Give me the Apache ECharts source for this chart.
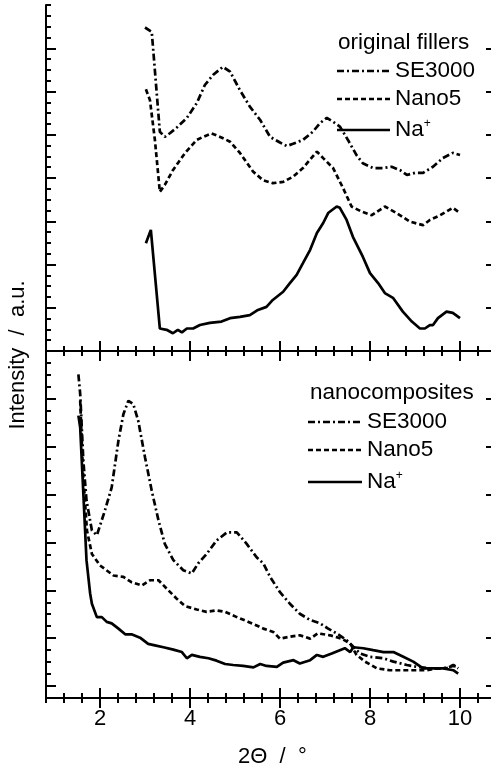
<!DOCTYPE html>
<html>
<head>
<meta charset="utf-8">
<script src="https://cdn.jsdelivr.net/npm/echarts@6/dist/echarts.min.js"></script>
<style>
  html, body { margin: 0; padding: 0; background: #fff; }
  #chart { width: 491px; height: 770px; }
</style>
</head>
<body>
<div id="chart"></div>
<script>
// x tick labels (2 theta, degrees)
const xTickLabels = [2, 4, 6, 8, 10]

// upper panel: original fillers  [2theta, intensity a.u.]
const fillerSE3000 = [
  [3.0, 7.48], [3.15, 7.38], [3.33, 5.07], [3.44, 4.95], [3.56, 5.04], [3.70, 5.16], [3.93, 5.39],
  [4.15, 5.73], [4.33, 6.15], [4.51, 6.38], [4.73, 6.57], [4.89, 6.46], [5.11, 6.03], [5.33, 5.65],
  [5.56, 5.34], [5.78, 4.95], [6.0, 4.82], [6.15, 4.74], [6.29, 4.79], [6.51, 4.88], [6.73, 5.07],
  [6.89, 5.27], [7.04, 5.39], [7.18, 5.30], [7.33, 5.19], [7.51, 4.88], [7.70, 4.53], [7.84, 4.34],
  [8.07, 4.23], [8.29, 4.23], [8.48, 4.26], [8.67, 4.18], [8.82, 4.07], [9.0, 4.12], [9.18, 4.12],
  [9.40, 4.26], [9.62, 4.46], [9.84, 4.58], [10.0, 4.53]
]
const fillerNano5 = [
  [3.02, 6.05], [3.11, 5.80], [3.22, 4.88], [3.33, 3.68], [3.44, 3.84], [3.62, 4.18], [3.89, 4.58],
  [4.15, 4.88], [4.29, 4.95], [4.48, 5.03], [4.67, 4.95], [4.89, 4.84], [5.11, 4.58], [5.40, 4.15],
  [5.62, 3.95], [5.84, 3.88], [6.07, 3.91], [6.29, 4.03], [6.51, 4.23], [6.82, 4.61], [6.96, 4.46],
  [7.18, 4.23], [7.40, 3.77], [7.59, 3.34], [7.82, 3.22], [8.04, 3.14], [8.33, 3.34], [8.59, 3.19],
  [8.89, 2.99], [9.18, 2.91], [9.33, 3.03], [9.56, 3.14], [9.84, 3.31], [10.0, 3.19]
]
const fillerNa = [
  [3.02, 2.49], [3.13, 2.80], [3.33, 0.52], [3.48, 0.49], [3.62, 0.41], [3.73, 0.49], [3.82, 0.43],
  [3.93, 0.52], [4.07, 0.52], [4.22, 0.60], [4.44, 0.65], [4.70, 0.68], [4.89, 0.76], [5.11, 0.79],
  [5.33, 0.83], [5.51, 0.95], [5.70, 1.02], [5.84, 1.18], [6.07, 1.37], [6.22, 1.57], [6.37, 1.76],
  [6.51, 2.03], [6.67, 2.34], [6.82, 2.73], [6.96, 2.96], [7.07, 3.19], [7.26, 3.34], [7.33, 3.31],
  [7.48, 3.03], [7.62, 2.64], [7.84, 2.18], [8.0, 1.80], [8.18, 1.57], [8.33, 1.34], [8.51, 1.23],
  [8.73, 0.91], [8.93, 0.68], [9.11, 0.52], [9.22, 0.52], [9.33, 0.60], [9.40, 0.60], [9.51, 0.76],
  [9.70, 0.91], [9.84, 0.88], [10.0, 0.76]
]

// lower panel: nanocomposites
const compSE3000 = [
  [1.52, 6.76], [1.56, 6.35], [1.63, 4.96], [1.70, 4.13], [1.82, 3.50], [1.93, 3.40], [2.11, 3.92],
  [2.26, 4.40], [2.41, 5.38], [2.52, 5.93], [2.63, 6.21], [2.74, 6.14], [2.85, 5.79], [3.0, 5.03],
  [3.15, 4.33], [3.30, 3.71], [3.44, 3.22], [3.63, 2.88], [3.85, 2.67], [4.04, 2.60], [4.18, 2.81],
  [4.37, 3.01], [4.59, 3.29], [4.82, 3.46], [5.04, 3.46], [5.26, 3.22], [5.48, 2.94], [5.63, 2.81],
  [5.78, 2.53], [6.0, 2.21], [6.22, 1.97], [6.44, 1.76], [6.67, 1.63], [6.89, 1.56], [7.07, 1.45],
  [7.26, 1.35], [7.48, 1.21], [7.63, 1.07], [7.78, 0.93], [8.0, 0.86], [8.30, 0.83], [8.52, 0.76],
  [8.82, 0.69], [9.04, 0.65], [9.33, 0.62], [9.63, 0.62], [9.85, 0.67], [9.96, 0.65]
]
const compNano5 = [
  [1.56, 6.21], [1.62, 4.75], [1.71, 3.50], [1.82, 3.01], [2.0, 2.77], [2.30, 2.56], [2.52, 2.53],
  [2.70, 2.42], [2.93, 2.35], [3.11, 2.46], [3.30, 2.46], [3.52, 2.25], [3.70, 2.08], [3.89, 1.92],
  [4.15, 1.85], [4.37, 1.80], [4.59, 1.83], [4.78, 1.80], [5.04, 1.69], [5.30, 1.59], [5.52, 1.50],
  [5.63, 1.45], [5.85, 1.38], [6.0, 1.24], [6.22, 1.28], [6.44, 1.31], [6.67, 1.24], [6.84, 1.35],
  [7.11, 1.31], [7.37, 1.24], [7.56, 1.14], [7.70, 0.90], [7.89, 0.76], [8.15, 0.62], [8.44, 0.58],
  [8.74, 0.58], [9.04, 0.58], [9.26, 0.58], [9.48, 0.62], [9.70, 0.62], [9.85, 0.69], [9.96, 0.62]
]
const compNa = [
  [1.52, 5.90], [1.56, 5.65], [1.63, 4.27], [1.70, 2.88], [1.78, 2.19], [1.82, 1.97], [1.93, 1.69],
  [2.04, 1.69], [2.15, 1.59], [2.26, 1.56], [2.41, 1.45], [2.56, 1.33], [2.70, 1.33], [2.89, 1.26],
  [3.07, 1.13], [3.22, 1.10], [3.41, 1.06], [3.63, 1.01], [3.82, 0.96], [3.93, 0.83], [4.04, 0.90],
  [4.22, 0.86], [4.41, 0.83], [4.59, 0.78], [4.78, 0.71], [4.96, 0.69], [5.18, 0.67], [5.41, 0.64],
  [5.56, 0.71], [5.70, 0.67], [5.93, 0.65], [6.07, 0.74], [6.30, 0.79], [6.44, 0.72], [6.67, 0.79],
  [6.82, 0.90], [6.96, 0.86], [7.15, 0.93], [7.33, 1.00], [7.44, 1.04], [7.56, 0.96], [7.63, 1.06],
  [7.85, 1.04], [8.07, 1.00], [8.30, 0.96], [8.52, 0.96], [8.74, 0.86], [8.96, 0.76], [9.18, 0.62],
  [9.37, 0.62], [9.63, 0.62], [9.85, 0.58], [9.96, 0.51]
]

const FONT = 'Liberation Sans, Arial, sans-serif'
const DASHDOT = [7, 3, 2, 3]
const DASHED = [5, 3]
const LW = 2.7

// ticks point inwards; minor axis carries the line, major axis only long ticks
function xPair(grid, pos, labels) {
  let base = { type: 'value', gridIndex: grid, position: pos, min: 0.8, max: 10.8, splitLine: { show: false } }
  return [
    Object.assign({}, base, {
      interval: 0.4,
      axisLine: { show: true, lineStyle: { color: '#000', width: 2 } },
      axisTick: { show: true, inside: true, length: 5, lineStyle: { color: '#000', width: 2 } },
      axisLabel: { show: false }
    }),
    Object.assign({}, base, {
      interval: 0.4,
      axisLine: { show: false },
      axisTick: { show: true, inside: true, length: 10, customValues: xTickLabels, lineStyle: { color: '#000', width: 2 } },
      axisLabel: labels ? { show: true, customValues: xTickLabels, color: '#000', fontSize: 22, fontFamily: FONT, margin: 10 } : { show: false }
    })
  ]
}

function yPair(grid, pos, max, majors) {
  let base = { type: 'value', gridIndex: grid, position: pos, min: 0, max: max, splitLine: { show: false } }
  return [
    Object.assign({}, base, {
      interval: 0.25,
      axisLine: { show: true, lineStyle: { color: '#000', width: 2 } },
      axisTick: { show: true, inside: true, length: 5, lineStyle: { color: '#000', width: 2 } },
      axisLabel: { show: false }
    }),
    Object.assign({}, base, {
      interval: 0.25,
      axisLine: { show: false },
      axisTick: { show: true, inside: true, length: 10, customValues: majors, lineStyle: { color: '#000', width: 2 } },
      axisLabel: { show: false }
    })
  ]
}

const topMajors = [1, 2, 3, 4, 5, 6, 7]
const botMajors = [0.25, 1.25, 2.25, 3.25, 4.25, 5.25, 6.25]

let xAxes = [].concat(
  xPair(0, 'bottom', false), xPair(0, 'top', false),
  xPair(1, 'bottom', true), xPair(1, 'top', false)
)
let yAxes = [].concat(
  yPair(0, 'left', 8, topMajors), yPair(0, 'right', 8, topMajors),
  yPair(1, 'left', 7.25, botMajors), yPair(1, 'right', 7.25, botMajors)
)

function line(name, data, grid, dash) {
  return {
    name: name,
    type: 'line',
    xAxisIndex: grid * 4,
    yAxisIndex: grid * 4,
    data: data,
    showSymbol: false,
    animation: false,
    lineStyle: { color: '#000', width: LW, type: dash }
  }
}

function legendBlock(title, titleX, titleY, x1, x2, ys, textX) {
  let g = [{
    type: 'text', left: titleX, top: titleY - 12,
    style: { text: title, font: '22.5px ' + FONT, fill: '#000' }
  }]
  let names = ['SE3000', 'Nano5', 'Na{s|+}']
  let dashes = [DASHDOT, DASHED, 'solid']
  ys.forEach((y, i) => {
    g.push({
      type: 'line',
      shape: { x1: x1, y1: y, x2: x2, y2: y },
      style: { stroke: '#000', lineWidth: LW, lineDash: dashes[i] === 'solid' ? null : dashes[i] }
    })
    g.push({
      type: 'text', left: textX, top: y - 12,
      style: {
        text: names[i], font: '22.5px ' + FONT, fill: '#000',
        rich: { s: { fontSize: 12, fontFamily: FONT, verticalAlign: 'top', padding: [0, 0, 10, 0] } }
      }
    })
  })
  return g
}

let option = {
  backgroundColor: '#fff',
  animation: false,
  grid: [
    { left: 46, top: 5, width: 450, height: 346, outerBoundsMode: 'none', containLabel: false },
    { left: 46, top: 351, width: 450, height: 347, outerBoundsMode: 'none', containLabel: false }
  ],
  xAxis: xAxes,
  yAxis: yAxes,
  graphic: [].concat(
    legendBlock('original fillers', 338, 43, 337, 390, [71, 99, 130], 395),
    legendBlock('nanocomposites', 310, 393, 308, 362, [422, 450, 482], 367),
    [
      { type: 'text', left: 238, top: 746, style: { text: '2\u0398  /  \u00b0', font: '22px ' + FONT, fill: '#000' } },
      { type: 'text', x: 18, y: 355, rotation: Math.PI / 2,
        style: { text: 'Intensity  /  a.u.', font: '22px ' + FONT, fill: '#000', align: 'center', verticalAlign: 'middle' } }
    ]
  ),
  series: [
    line('SE3000', fillerSE3000, 0, DASHDOT),
    line('Nano5', fillerNano5, 0, DASHED),
    line('Na+', fillerNa, 0, 'solid'),
    line('SE3000', compSE3000, 1, DASHDOT),
    line('Nano5', compNano5, 1, DASHED),
    line('Na+', compNa, 1, 'solid')
  ]
}

let chart = echarts.init(document.getElementById('chart'), null, { renderer: 'canvas' })
chart.setOption(option)
</script>
</body>
</html>
